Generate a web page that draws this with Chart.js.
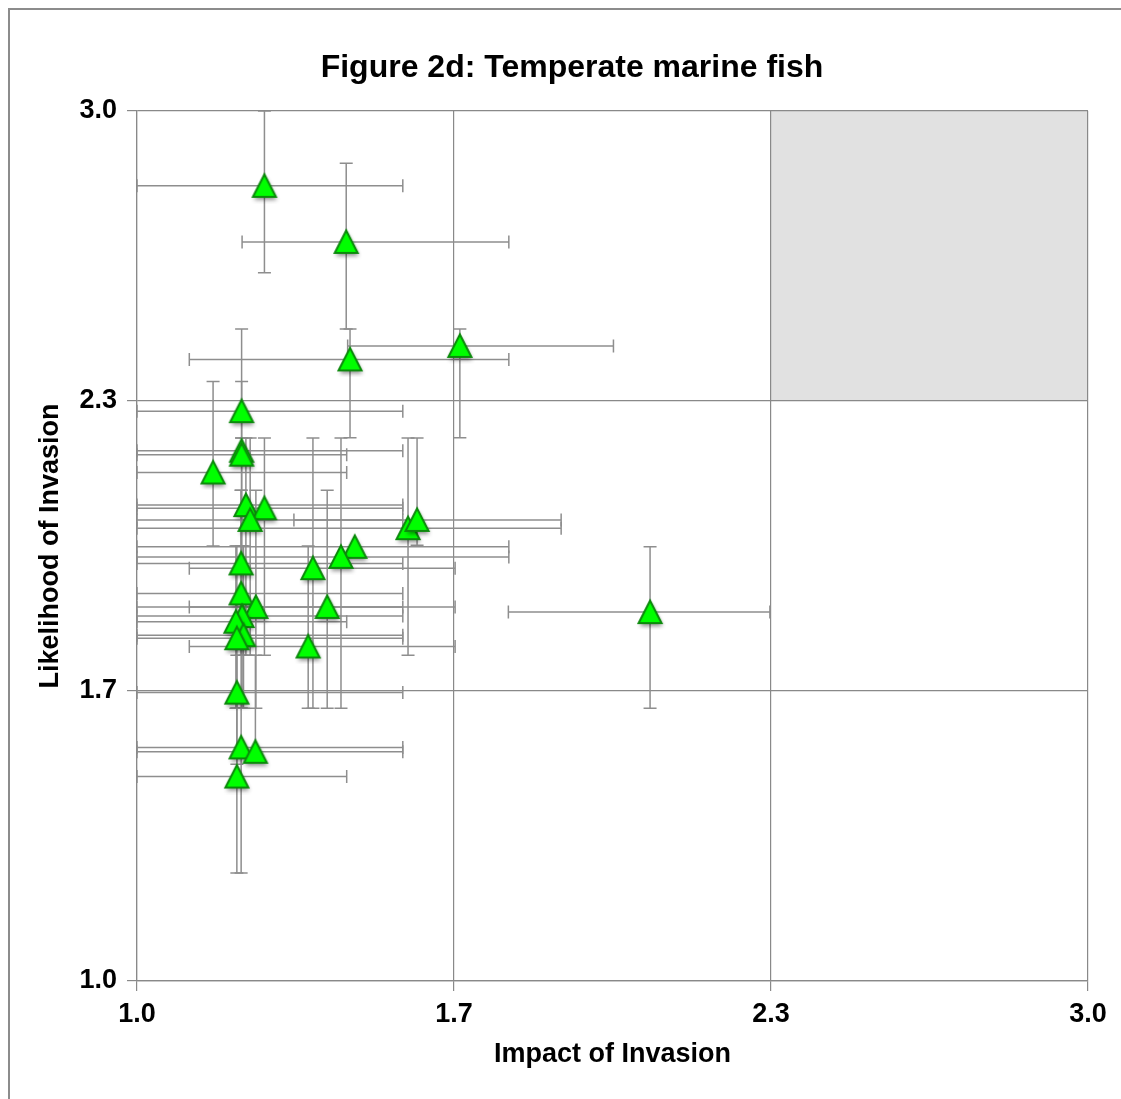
<!DOCTYPE html>
<html>
<head>
<meta charset="utf-8">
<title>Figure 2d: Temperate marine fish</title>
<script src="https://cdn.jsdelivr.net/npm/chart.js@4.4.0/dist/chart.umd.min.js"></script>
<style>
  html, body { margin: 0; padding: 0; background: #fff; }
  #wrap { position: relative; width: 1121px; height: 1099px; }
</style>
</head>
<body>
<div id="wrap"><canvas id="riskChart" width="1121" height="1099"></canvas></div>
<script>
// ======================
// Data
// ======================
const chartTitle = 'Figure 2d: Temperate marine fish';

const impact = [1.268, 1.440, 1.448, 1.679, 1.220, 1.160, 1.220, 1.220, 1.229, 1.268,
                1.238, 1.570, 1.589, 1.458, 1.429, 1.219, 1.370, 1.219, 1.250, 1.400,
                1.221, 1.208, 1.224, 1.210, 1.360, 2.079, 1.210, 1.219, 1.249, 1.210];
const likelihood = [2.828, 2.699, 2.429, 2.460, 2.310, 2.169, 2.219, 2.210, 2.094, 2.087,
                    2.060, 2.041, 2.060, 1.998, 1.975, 1.960, 1.949, 1.891, 1.860, 1.860,
                    1.839, 1.826, 1.795, 1.788, 1.769, 1.848, 1.663, 1.537, 1.527, 1.470];

// error bar ends (low / high) for each point
const impactLow = [1.0, 1.221, 1.110, 1.443, 1.0, 1.0, 1.0, 1.0, 1.0, 1.0,
                   1.0, 1.0, 1.330, 1.0, 1.0, 1.0, 1.110, 1.0, 1.0, 1.110,
                   1.0, 1.0, 1.0, 1.0, 1.110, 1.781, 1.0, 1.0, 1.0, 1.0];
const impactHigh = [1.559, 1.782, 1.782, 2.002, 1.559, 1.441, 1.559, 1.441, 1.559, 1.559,
                    1.559, 1.892, 1.892, 1.782, 1.782, 1.559, 1.669, 1.559, 1.559, 1.669,
                    1.559, 1.441, 1.559, 1.559, 1.669, 2.331, 1.559, 1.559, 1.559, 1.441];
const likeLow = [2.628, 2.499, 2.249, 2.249, 2.248, 2.0, 2.0, 2.0, 1.749, 1.749,
                 1.749, 1.749, 2.002, 1.998, 1.627, 1.749, 1.627, 1.627, 1.627, 1.627,
                 1.627, 1.627, 1.627, 1.627, 1.627, 1.627, 1.498, 1.248, 1.527, 1.248];
const likeHigh = [3.0, 2.880, 2.499, 2.499, 2.499, 2.378, 2.378, 2.248, 2.248, 2.248,
                  2.248, 2.248, 2.248, 1.998, 2.248, 2.128, 2.248, 2.128, 2.128, 2.128,
                  2.0, 2.0, 2.0, 2.0, 2.0, 1.998, 1.749, 1.627, 1.749, 1.627];

// axis ticks and the high-risk box
const tickValues = [1, 5 / 3, 7 / 3, 3];
const tickLabels = ['1.0', '1.7', '2.3', '3.0'];
const shadeX = [7 / 3, 3];
const shadeY = [7 / 3, 3];

const FONT = 'Liberation Sans, Arial, Helvetica, sans-serif';
const GRID = '#898989';

// ======================
// Marker: green triangle with soft shadow
// ======================
function makeTriangle() {
  const c = document.createElement('canvas');
  c.width = 36; c.height = 36;
  const g = c.getContext('2d');
  g.beginPath();
  g.moveTo(18, 6.5);
  g.lineTo(6.5, 29);
  g.lineTo(29.5, 29);
  g.closePath();
  g.shadowColor = 'rgba(0,0,0,0.45)';
  g.shadowBlur = 4;
  g.shadowOffsetX = 1;
  g.shadowOffsetY = 3;
  g.fillStyle = '#00ff00';
  g.fill();
  g.shadowColor = 'transparent';
  g.lineWidth = 2;
  g.strokeStyle = '#0b8a0b';
  g.stroke();
  return c;
}

// ======================
// Plugins
// ======================
const shadeBox = {
  id: 'shadeBox',
  beforeDraw(chart) {
    const { ctx, scales: { x, y } } = chart;
    const x0 = x.getPixelForValue(shadeX[0]), x1 = x.getPixelForValue(shadeX[1]);
    const y0 = y.getPixelForValue(shadeY[0]), y1 = y.getPixelForValue(shadeY[1]);
    ctx.save();
    ctx.fillStyle = '#e1e1e1';
    ctx.fillRect(x0, y1, x1 - x0, y0 - y1);
    ctx.restore();
  }
};

const errorBars = {
  id: 'errorBars',
  beforeDatasetsDraw(chart) {
    const { ctx, chartArea: a, scales: { x, y } } = chart;
    const cap = 6.5;
    ctx.save();
    ctx.beginPath();
    ctx.rect(a.left, a.top, a.right - a.left, a.bottom - a.top);
    ctx.clip();
    ctx.strokeStyle = '#8e8e8e';
    ctx.lineWidth = 1.5;
    impact.forEach((v, i) => {
      const px = x.getPixelForValue(v);
      const py = y.getPixelForValue(likelihood[i]);
      const xl = x.getPixelForValue(impactLow[i]);
      const xh = x.getPixelForValue(impactHigh[i]);
      const yl = y.getPixelForValue(likeLow[i]);
      const yh = y.getPixelForValue(likeHigh[i]);
      ctx.beginPath();
      if (xh - xl > 0.5) {
        ctx.moveTo(xl, py); ctx.lineTo(xh, py);
        ctx.moveTo(xl, py - cap); ctx.lineTo(xl, py + cap);
        ctx.moveTo(xh, py - cap); ctx.lineTo(xh, py + cap);
      }
      if (yl - yh > 0.5) {
        ctx.moveTo(px, yl); ctx.lineTo(px, yh);
        ctx.moveTo(px - cap, yl); ctx.lineTo(px + cap, yl);
        ctx.moveTo(px - cap, yh); ctx.lineTo(px + cap, yh);
      }
      ctx.stroke();
    });
    ctx.restore();
  }
};

// title + outer frame of the figure
const frameAndTitle = {
  id: 'frameAndTitle',
  afterDraw(chart) {
    const ctx = chart.ctx;
    ctx.save();
    ctx.strokeStyle = '#8c8c8c';
    ctx.lineWidth = 2;
    ctx.beginPath();
    ctx.moveTo(9, chart.height);
    ctx.lineTo(9, 9);
    ctx.lineTo(chart.width, 9);
    ctx.stroke();

    ctx.fillStyle = '#000';
    ctx.font = 'bold 32px ' + FONT;
    ctx.textAlign = 'center';
    ctx.textBaseline = 'alphabetic';
    ctx.fillText(chartTitle, 572, 77);
    ctx.restore();
  }
};

// ======================
// Chart
// ======================
const points = impact.map((v, i) => ({ x: v, y: likelihood[i] }));

function setTicks(scale) {
  scale.ticks = tickValues.map(v => ({ value: v }));
}

const ctx = document.getElementById('riskChart').getContext('2d');
const riskChart = new Chart(ctx, {
  type: 'scatter',
  data: {
    datasets: [{
      data: points,
      pointStyle: makeTriangle(),
      pointRadius: 18,
      pointHoverRadius: 18
    }]
  },
  options: {
    responsive: false,
    animation: false,
    events: [],
    layout: { padding: { left: 0, right: 33, top: 111, bottom: 0 } },
    plugins: {
      legend: { display: false },
      tooltip: { enabled: false },
      title: { display: false }
    },
    scales: {
      x: {
        type: 'linear',
        min: 1, max: 3,
        afterBuildTicks: setTicks,
        afterFit: s => { s.height = 118; },
        grid: { color: GRID, lineWidth: 1.2, tickLength: 10, tickColor: GRID },
        border: { color: GRID, width: 1.2 },
        ticks: {
          padding: 7,
          color: '#000',
          font: { family: FONT, size: 27, weight: 'bold' },
          callback: (v, i) => tickLabels[i]
        },
        title: {
          display: true,
          text: 'Impact of Invasion',
          color: '#000',
          font: { family: FONT, size: 27, weight: 'bold' },
          padding: { top: 0, bottom: 28 }
        }
      },
      y: {
        type: 'linear',
        min: 1, max: 3,
        afterBuildTicks: setTicks,
        afterFit: s => { s.width = 137; },
        grid: { color: GRID, lineWidth: 1.2, tickLength: 10, tickColor: GRID },
        border: { color: GRID, width: 1.2 },
        ticks: {
          padding: 10,
          color: '#000',
          font: { family: FONT, size: 27, weight: 'bold' },
          callback: (v, i) => tickLabels[i]
        },
        title: {
          display: true,
          text: 'Likelihood of Invasion',
          color: '#000',
          font: { family: FONT, size: 27, weight: 'bold' },
          padding: { top: 34, bottom: 0 }
        }
      }
    }
  },
  plugins: [shadeBox, errorBars, frameAndTitle]
});
</script>
</body>
</html>
